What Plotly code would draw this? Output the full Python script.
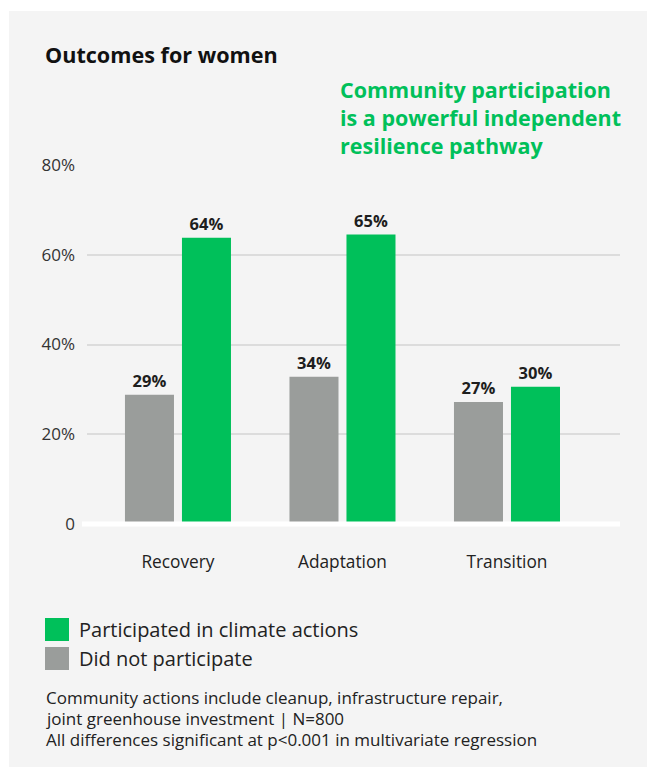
import plotly.graph_objects as go

categories = ["Recovery", "Adaptation", "Transition"]
not_participated = [28.8, 32.8, 27.2]
participated = [63.8, 64.5, 30.6]
not_participated_labels = ["29%", "34%", "27%"]
participated_labels = ["64%", "65%", "30%"]
tick_vals = [0, 20, 40, 60, 80]
tick_text = ["0", "20%", "40%", "60%", "80%"]
callout_lines = ["Community participation", "is a powerful independent", "resilience pathway"]
footnote_lines = ["Community actions include cleanup, infrastructure repair,",
                  "joint greenhouse investment | N=800",
                  "All differences significant at p<0.001 in multivariate regression"]

W, H = 647, 767
L, R = 87, 27
T, B = 165, 234
PW, PH = W - L - R, H - T - B

def px(x):
    return (x - L) / PW

def py(y):
    return (H - B - y) / PH

FONT = "Open Sans"
GREEN = "#00c05a"
GRAY = "#9a9d9b"
BG = "#f4f4f4"
DARK = "#1e1e1e"

fig = go.Figure()
fig.add_trace(go.Bar(
    x=categories, y=not_participated, name="Did not participate",
    marker=dict(color=GRAY, line=dict(width=0)),
    text=not_participated_labels, textposition="outside",
    textfont=dict(family=FONT, size=16.5, color=DARK, weight="bold"),
    cliponaxis=False, hoverinfo="skip",
))
fig.add_trace(go.Bar(
    x=categories, y=participated, name="Participated in climate actions",
    marker=dict(color=GREEN, line=dict(width=0)),
    text=participated_labels, textposition="outside",
    textfont=dict(family=FONT, size=16.5, color=DARK, weight="bold"),
    cliponaxis=False, hoverinfo="skip",
))

fig.update_layout(
    width=W, height=H,
    margin=dict(l=L, r=R, t=T, b=B),
    paper_bgcolor=BG, plot_bgcolor=BG,
    barmode="group", bargap=0.307, bargroupgap=0.14,
    showlegend=False,
    font=dict(family=FONT, color=DARK),
    xaxis=dict(range=[-0.553, 2.687], showgrid=False, zeroline=False,
               tickfont=dict(size=17.3, color="#222"), ticks="",
               ticklabelstandoff=17),
    yaxis=dict(range=[-2, 80], tickvals=tick_vals, ticktext=tick_text,
               showgrid=True, gridcolor="#dcdcdc", gridwidth=1.5,
               zeroline=False, tickfont=dict(size=17, color="#333"),
               ticks="", ticklabelstandoff=11),
)

# white zero baseline
fig.add_shape(type="line", xref="paper", yref="y", x0=px(82), x1=px(620),
              y0=0, y1=0, line=dict(color="white", width=5), layer="above")

# white page strips around panel
fig.add_shape(type="rect", xref="paper", yref="paper", x0=px(0), x1=px(W),
              y0=py(0), y1=py(11), fillcolor="white", line=dict(width=0), layer="below")
fig.add_shape(type="rect", xref="paper", yref="paper", x0=px(0), x1=px(9),
              y0=py(0), y1=py(H), fillcolor="white", line=dict(width=0), layer="below")

# title
fig.add_annotation(text="<b>Outcomes for women</b>", xref="paper", yref="paper",
                   x=px(43), y=py(55), xanchor="left", yanchor="middle",
                   showarrow=False, font=dict(size=21.6, color="#111", family=FONT))
# green callout
fig.add_annotation(text="<br>".join("<b>" + s + "</b>" for s in callout_lines),
                   xref="paper", yref="paper", x=px(338), y=py(117),
                   xanchor="left", yanchor="middle", align="left",
                   showarrow=False, font=dict(size=21.5, color=GREEN, family=FONT))

# custom legend
for (y0, col, label) in [(618, GREEN, "Participated in climate actions"),
                         (647, GRAY, "Did not participate")]:
    fig.add_shape(type="rect", xref="paper", yref="paper", x0=px(45), x1=px(69),
                  y0=py(y0), y1=py(y0 + 23), fillcolor=col, line=dict(width=0))
    fig.add_annotation(text=label, xref="paper", yref="paper", x=px(77),
                       y=py(y0 + 11), xanchor="left", yanchor="middle",
                       showarrow=False, font=dict(size=20, color="#222", family=FONT))

# footnote
for i, line in enumerate(footnote_lines):
    fig.add_annotation(text=line, xref="paper", yref="paper", x=px(44),
                       y=py(697 + 21 * i), xanchor="left", yanchor="middle",
                       showarrow=False, font=dict(size=17, color="#222", family=FONT))

fig.write_html("out.html", config={"displayModeBar": False},
               post_script="document.body.style.margin='0';document.body.style.overflow='hidden';")
